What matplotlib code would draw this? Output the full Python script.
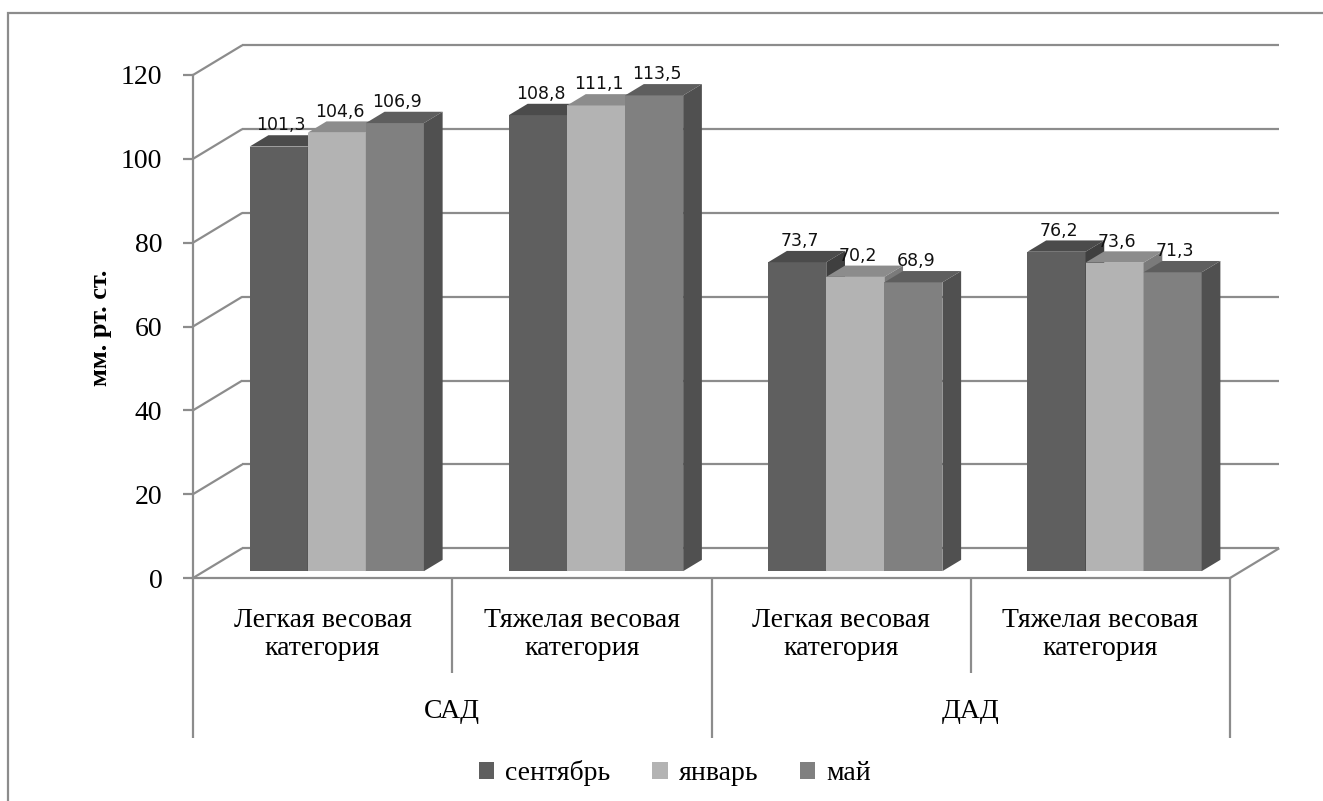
import matplotlib
matplotlib.use("Agg")
import matplotlib.pyplot as plt
from matplotlib.patches import Polygon, Rectangle, Patch

plt.rcParams["font.family"] = ["Liberation Serif", "DejaVu Serif"]

groups = ["САД", "ДАД"]
categories = ["Легкая весовая\nкатегория", "Тяжелая весовая\nкатегория",
              "Легкая весовая\nкатегория", "Тяжелая весовая\nкатегория"]
series = ["сентябрь", "январь", "май"]
sep = [101.3, 108.8, 73.7, 76.2]
jan = [104.6, 111.1, 70.2, 73.6]
may = [106.9, 113.5, 68.9, 71.3]
y_ticks = [0, 20, 40, 60, 80, 100, 120]

# front / top / side shades for each series
faces = [("#5f5f5f", "#4b4b4b", "#3f3f3f"),
         ("#b3b3b3", "#8c8c8c", "#7a7a7a"),
         ("#808080", "#5e5e5e", "#505050")]
grid_c = "#8c8c8c"

W, H = 1323, 801
fig = plt.figure(figsize=(W / 100, H / 100), dpi=100)
ax = fig.add_axes([193 / W, 1 - 578 / H, 1037 / W, 503 / H])
ax.set_xlim(0, 4)
ax.set_ylim(0, 120)

# depth of the floor/back wall, and the slab the bars occupy
DX, DY = 0.19, 7.1
F0, F1 = 0.23, 0.61
BW = 0.224
OFF = 0.175

def line(xs, ys, **kw):
    ax.plot(xs, ys, color=grid_c, lw=1.6, clip_on=False, solid_capstyle="butt", **kw)

# back wall gridlines and left wall diagonals
for v in y_ticks:
    line([DX, 4 + DX], [v + DY, v + DY], zorder=1)
    line([0, DX], [v, v + DY], zorder=1)
line([4, 4 + DX], [0, DY], zorder=1)

# bars
values = [sep, jan, may]
for c in range(len(categories)):
    for s, vals in enumerate(values):
        v = vals[c]
        front, top, side = faces[s]
        x0 = c + OFF + s * BW + F0 * DX
        x1 = x0 + BW
        y0 = F0 * DY
        y1 = v + F0 * DY
        ddx, ddy = (F1 - F0) * DX, (F1 - F0) * DY
        z = 2 + s
        ax.add_patch(Polygon([(x0, y0), (x1, y0), (x1, y1), (x0, y1)],
                             closed=True, fc=front, ec="none", zorder=z))
        ax.add_patch(Polygon([(x0, y1), (x1, y1), (x1 + ddx, y1 + ddy), (x0 + ddx, y1 + ddy)],
                             closed=True, fc=top, ec="none", zorder=z))
        ax.add_patch(Polygon([(x1, y0), (x1 + ddx, y0 + ddy), (x1 + ddx, y1 + ddy), (x1, y1)],
                             closed=True, fc=side, ec="none", zorder=z))
        ax.text((x0 + x1) / 2 + 0.01, y1 + ddy + 0.2, f"{v:.1f}".replace(".", ","),
                ha="center", va="bottom", fontsize=12.5, family="DejaVu Sans",
                color="#111111", zorder=10)

# axes frame
for sp in ["top", "right"]:
    ax.spines[sp].set_visible(False)
for sp in ["left", "bottom"]:
    ax.spines[sp].set_color(grid_c)
    ax.spines[sp].set_linewidth(1.6)
ax.set_xticks([])
ax.set_yticks(y_ticks)
ax.set_yticklabels([str(t) for t in y_ticks], fontsize=20)
ax.tick_params(axis="y", length=7, width=1.6, color=grid_c, pad=15)
ax.patch.set_visible(False)

# multi-level category axis below the plot
for x in [0, 2, 4]:
    line([x, x], [0, -38.2], zorder=1)
for x in [1, 3]:
    line([x, x], [0, -22.7], zorder=1)
for c, lab in enumerate(categories):
    ax.text(c + 0.5, -13.4, lab, ha="center", va="center", fontsize=20,
            linespacing=1.15, clip_on=False)
for g, lab in enumerate(groups):
    ax.text(2 * g + 1, -31.8, lab, ha="center", va="center", fontsize=20, clip_on=False)

fig.text(100 / W, 1 - 328 / H, "мм. рт. ст.", rotation=90, ha="center", va="center",
         fontsize=19, fontweight="bold")

handles = [Patch(fc=faces[i][0], ec="none") for i in range(3)]
fig.legend(handles, series, loc="center", bbox_to_anchor=(675 / W, 1 - 773 / H),
           ncol=3, frameon=False, fontsize=20, handlelength=0.55, handleheight=0.55,
           handletextpad=0.4, columnspacing=1.5)

# chart border
fig.add_artist(Rectangle((8 / W, -0.05), 1.1, 1.05 - 13 / H, transform=fig.transFigure,
                         fill=False, ec=grid_c, lw=1.6))

fig.savefig("out.png", dpi=100)
